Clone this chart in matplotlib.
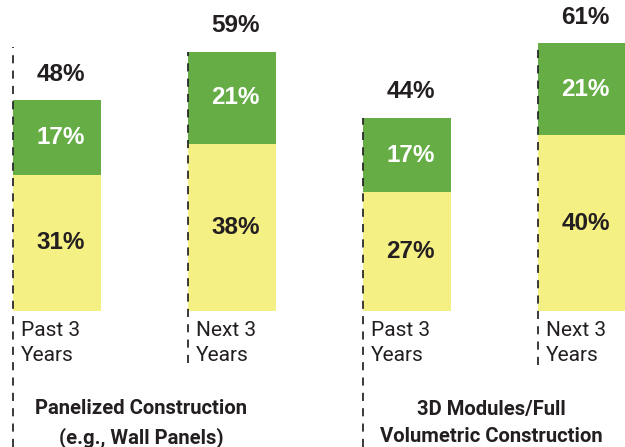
import matplotlib
matplotlib.use('Agg')
import matplotlib.pyplot as plt
import numpy as np

# survey shares (%), two stacked parts per bar
bar_labels = ['Past 3\nYears', 'Next 3\nYears', 'Past 3\nYears', 'Next 3\nYears']
lower_part = [31, 38, 27, 40]
upper_part = [17, 21, 17, 21]
totals = [48, 59, 44, 61]
groups = ['Panelized Construction\n(e.g., Wall Panels)',
          '3D Modules/Full\nVolumetric Construction']

YELLOW = '#f5f084'
GREEN = '#66ad45'
DARK = '#231f20'

fig = plt.figure(figsize=(6.25, 4.47), dpi=100)
ax = fig.add_axes([0, 0, 1, 1])
ax.set_xlim(-0.326, 3.246)
ax.set_ylim(-31, 70.8)
ax.axis('off')

x = np.arange(len(bar_labels))
w = 0.503
ax.bar(x, lower_part, width=w, color=YELLOW, zorder=1)
ax.bar(x, upper_part, width=w, bottom=lower_part, color=GREEN, zorder=1)

num_font = dict(family=['Liberation Sans', 'DejaVu Sans'], fontweight='bold', fontsize=17.5)
for i in range(len(x)):
    ax.text(x[i] + 0.02, lower_part[i] / 2, f'{lower_part[i]}%', ha='center', va='center',
            color=DARK, **num_font)
    ax.text(x[i] + 0.02, lower_part[i] + upper_part[i] / 2, f'{upper_part[i]}%',
            ha='center', va='center', color='white', **num_font)
    ax.annotate(f'{totals[i]}%', (x[i] + 0.02, totals[i]), xytext=(0, 26),
                textcoords='offset pixels', ha='center', va='center', color=DARK, **num_font)
    ax.annotate(bar_labels[i], (x[i] - w / 2, 0), xytext=(8, -10),
                textcoords='offset pixels', ha='left', va='top', color=DARK,
                family=['Roboto', 'DejaVu Sans'], fontsize=15,
                linespacing=1.4)

# dashed guide lines on the left edge of each bar
guide_top = [60, totals[1], totals[2], totals[3]]
guide_bottom = [-31, -11.9, -31, -12.3]
for i in range(len(x)):
    ax.vlines(x[i] - w / 2, guide_bottom[i], guide_top[i], colors='#2a2a2a',
              linestyles=(0, (4.5, 4)), linewidth=1.3, zorder=3)

for g, name in enumerate(groups):
    ax.text(2 * g + 0.48, -25.6, name, ha='center', va='center', color=DARK,
            family=['Roboto', 'DejaVu Sans'], fontweight='bold',
            fontsize=14.6, linespacing=1.55)

fig.savefig('out.png', dpi=100)
